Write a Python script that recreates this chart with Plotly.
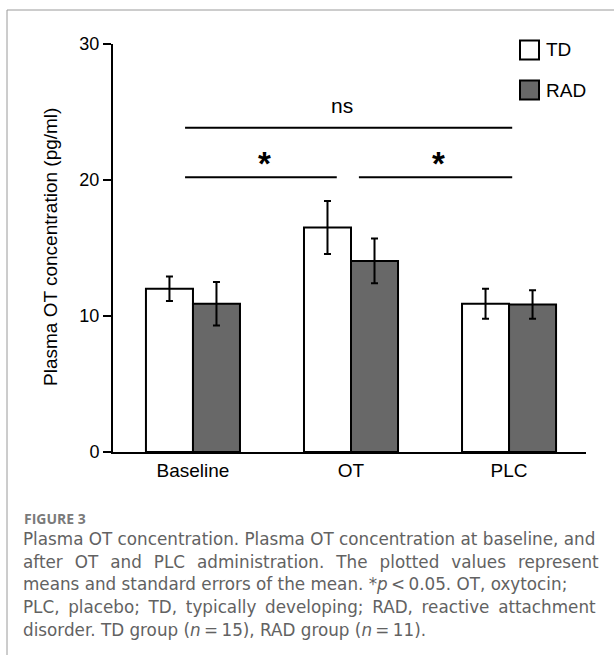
import plotly.graph_objects as go

# ---------------- data ----------------
categories = ["Baseline", "OT", "PLC"]
series_names = ["TD", "RAD"]
td_means = [12.0, 16.5, 10.9]
td_sem = [0.9, 1.95, 1.1]
rad_means = [10.9, 14.05, 10.85]
rad_sem = [1.6, 1.65, 1.05]
y_ticks = [0, 10, 20, 30]
sig_pairs = [("Baseline", "PLC"), ("Baseline", "OT"), ("OT", "PLC")]
sig_labels = ["ns", "*", "*"]
y_title = "Plasma OT concentration (pg/ml)"
caption_head = "FIGURE 3"
caption_lines = [
    "Plasma OT concentration. Plasma OT concentration at baseline, and",
    "after OT and PLC administration. The plotted values represent",
    "means and standard errors of the mean. *<i>p</i>\u2009&lt;\u20090.05. OT, oxytocin;",
    "PLC, placebo; TD, typically developing; RAD, reactive attachment",
    "disorder. TD group (<i>n</i>\u2009=\u200915), RAD group (<i>n</i>\u2009=\u200911).",
]

# ---------------- layout geometry (pixels) ----------------
W, H = 614, 655
L, R, T, B = 113, 28, 44, 203
PW, PH = W - L - R, H - T - B
FONT = "Liberation Sans, Arial, sans-serif"


def px_x(px):
    return (px - L) / PW


def px_y(py):
    return (H - B - py) / PH


def widen(line, extra):
    # emulate justified text by adding thin spaces after each word gap
    return line.replace(" ", " " + "\u2009" * extra) if extra else line


fill_colors = ["#ffffff", "#686868"]

fig = go.Figure()
for name, means, errs, col in zip(series_names, [td_means, rad_means],
                                   [td_sem, rad_sem], fill_colors):
    fig.add_trace(go.Bar(
        x=categories, y=means, name=name,
        marker=dict(color=col, line=dict(color="black", width=2)),
        error_y=dict(type="data", array=errs, color="black",
                     thickness=2, width=3.5),
        showlegend=False,
    ))

shapes = []
annotations = []

# significance brackets
idx = {c: i for i, c in enumerate(categories)}
for (a, b), lab in zip(sig_pairs, sig_labels):
    ia, ib = idx[a], idx[b]
    if lab == "ns":
        yl = 23.85
        x0, x1 = ia - 0.05, ib + 0.02
        annotations.append(dict(x=(x0 + x1) / 2 - 0.04, y=25.5, xref="x", yref="y",
                                text=lab, showarrow=False, yanchor="middle",
                                font=dict(family=FONT, size=21, color="black")))
    else:
        yl = 20.2
        x0 = ia - 0.05 if ia == 0 else ia + 0.05
        x1 = ib - 0.09 if ib == 1 else ib + 0.02
        annotations.append(dict(x=(x0 + x1) / 2 + 0.02, y=21.2, xref="x", yref="y",
                                text="<b>" + lab + "</b>", showarrow=False,
                                yanchor="middle",
                                font=dict(family=FONT, size=33, color="black")))
    shapes.append(dict(type="line", xref="x", yref="y", x0=x0, x1=x1,
                       y0=yl, y1=yl, line=dict(color="black", width=2)))

# legend (manual)
for i, (name, col) in enumerate(zip(series_names, fill_colors)):
    cy = 50 + 40 * i
    shapes.append(dict(type="rect", xref="paper", yref="paper",
                       x0=px_x(520), x1=px_x(539), y0=px_y(cy + 9.5), y1=px_y(cy - 9.5),
                       fillcolor=col, line=dict(color="black", width=2)))
    annotations.append(dict(x=px_x(544), y=px_y(cy), xref="paper", yref="paper",
                            text=name, showarrow=False, xanchor="left", yanchor="middle",
                            font=dict(family=FONT, size=19, color="black")))

# outer frame
shapes.append(dict(type="rect", xref="paper", yref="paper",
                   x0=px_x(7), x1=px_x(W + 20), y0=px_y(H + 20), y1=px_y(10),
                   line=dict(color="#9a9a9a", width=1), fillcolor="rgba(0,0,0,0)"))

# y-axis title
annotations.append(dict(x=px_x(50), y=px_y(247), xref="paper", yref="paper",
                        text=y_title, textangle=-90, showarrow=False,
                        xanchor="center", yanchor="middle",
                        font=dict(family=FONT, size=19, color="black")))

# caption
CAP_FONT = "DejaVu Sans, sans-serif"
annotations.append(dict(x=px_x(22), y=px_y(518), xref="paper", yref="paper",
                        text="<b>" + caption_head + "</b>", showarrow=False,
                        xanchor="left", yanchor="middle",
                        font=dict(family="Open Sans, sans-serif", size=14, color="#7a7a7a")))
extra_spaces = [0, 2, 0, 1, 0]
for k, line in enumerate(caption_lines):
    annotations.append(dict(x=px_x(21), y=px_y(539 + 22.7 * k), xref="paper", yref="paper",
                            text=widen(line, extra_spaces[k]), showarrow=False,
                            xanchor="left", yanchor="middle",
                            font=dict(family=CAP_FONT, size=16.8, color="#626262")))

fig.update_layout(
    width=W, height=H,
    margin=dict(l=L, r=R, t=T, b=B, pad=0),
    paper_bgcolor="white", plot_bgcolor="white",
    barmode="group", bargap=0.405, bargroupgap=0,
    shapes=shapes, annotations=annotations,
    xaxis=dict(range=[-0.506, 2.487], showline=True, linecolor="black", linewidth=2,
               ticks="", showgrid=False, zeroline=False,
               tickfont=dict(family=FONT, size=19, color="black")),
    yaxis=dict(range=[0, 30], tickvals=y_ticks, showline=True, linecolor="black",
               linewidth=2, ticks="outside", ticklen=8, tickwidth=2, tickcolor="black",
               showgrid=False, zeroline=False,
               tickfont=dict(family=FONT, size=18, color="black")),
)

fig.write_html("out.html", config={"displayModeBar": False},
               post_script="document.body.style.margin='0px';")
